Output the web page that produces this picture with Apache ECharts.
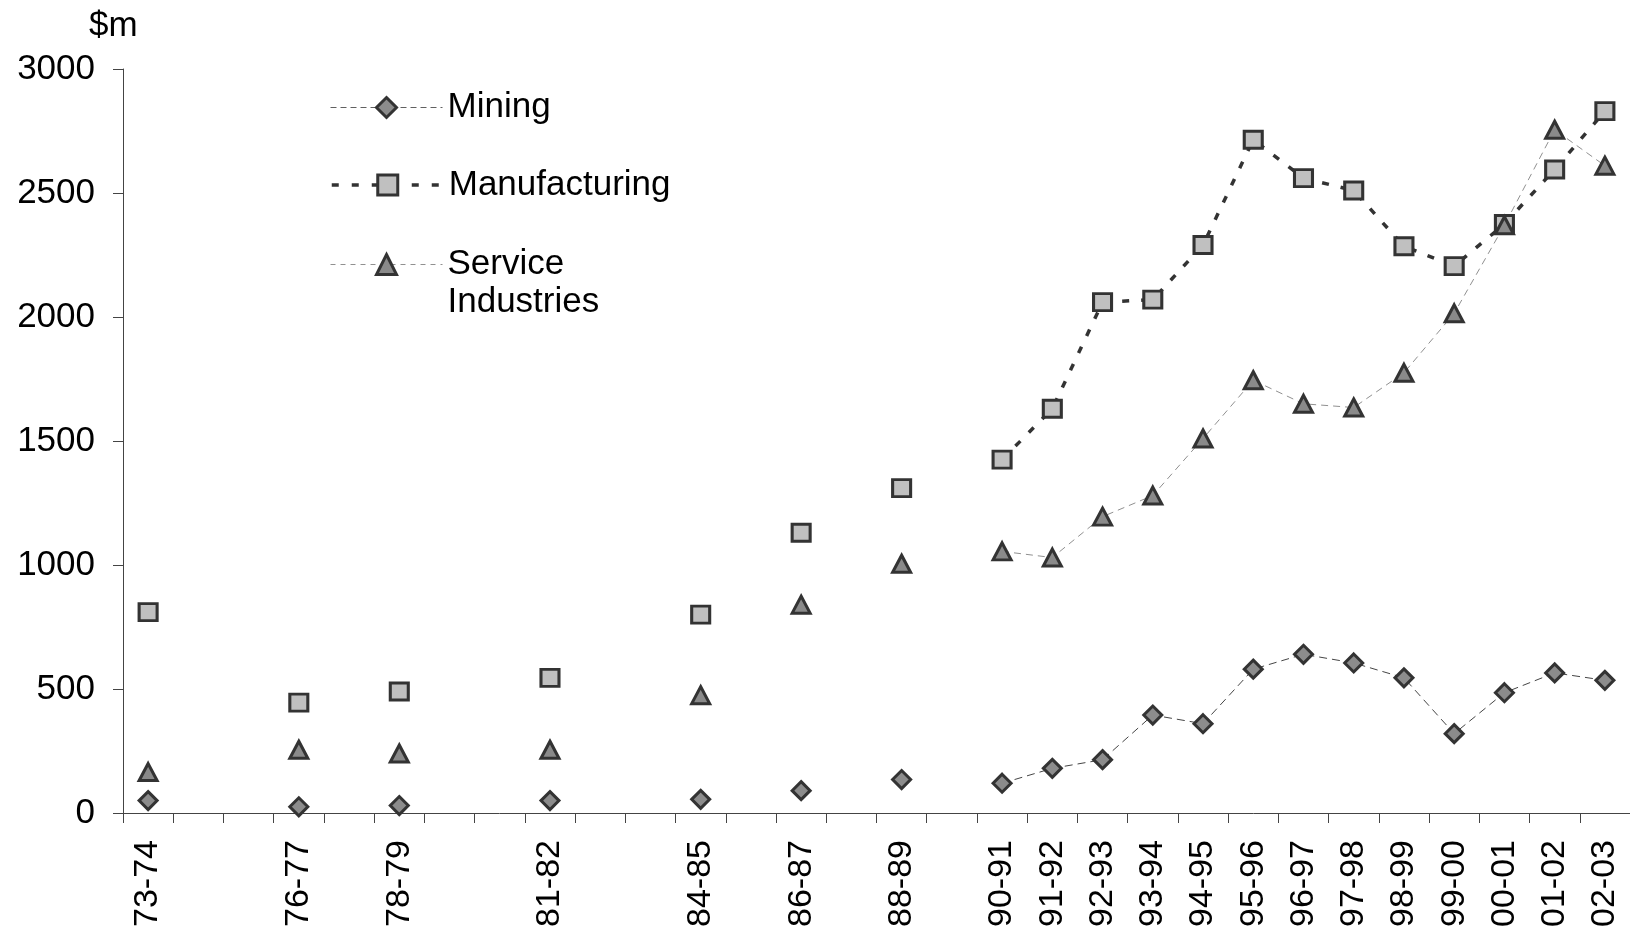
<!DOCTYPE html>
<html>
<head>
<meta charset="utf-8">
<script src="https://cdn.jsdelivr.net/npm/echarts@6/dist/echarts.min.js"></script>
<style>
  html, body { margin: 0; padding: 0; background: #ffffff; }
  #chart { width: 1630px; height: 930px; }
</style>
</head>
<body>
<div id="chart"></div>
<script>
// Financial years 1973-74 to 2002-03; years without a survey are null
const years = ['73-74','74-75','75-76','76-77','77-78','78-79','79-80','80-81','81-82','82-83',
               '83-84','84-85','85-86','86-87','87-88','88-89','89-90','90-91','91-92','92-93',
               '93-94','94-95','95-96','96-97','97-98','98-99','99-00','00-01','01-02','02-03'];

const mining = [50, null, null, 25, null, 30, null, null, 50, null,
                null, 55, null, 90, null, 135, null, 120, 180, 215,
                395, 360, 580, 640, 605, 545, 320, 485, 565, 535];

const manufacturing = [810, null, null, 445, null, 490, null, null, 545, null,
                       null, 800, null, 1130, null, 1310, null, 1425, 1630, 2060,
                       2070, 2290, 2715, 2560, 2510, 2285, 2205, 2375, 2595, 2830];

const services = [165, null, null, 255, null, 240, null, null, 255, null,
                  null, 475, null, 840, null, 1005, null, 1055, 1030, 1195,
                  1280, 1510, 1745, 1650, 1635, 1775, 2015, 2370, 2755, 2610];

const yTicks = { min: 0, max: 3000, step: 500 };
const unitLabel = '$m';

const FONT = '"Liberation Sans", Arial, sans-serif';
const FS = 35;      // horizontal text
const FS_X = 34;    // rotated year labels

const hasValue = years.map((_, i) =>
  mining[i] !== null || manufacturing[i] !== null || services[i] !== null);

const chart = echarts.init(document.getElementById('chart'), null, { renderer: 'canvas' });

// one legend block per series so each row can sit at its own height
function legendBlock(name, top, label, line) {
  return {
    data: [name],
    left: 330,
    top: top,
    padding: 0,
    itemWidth: 112,
    itemHeight: 25,
    selectedMode: false,
    formatter: () => label,
    lineStyle: line,
    itemStyle: { borderWidth: 3 },
    textStyle: { fontFamily: FONT, fontSize: FS, color: '#000', lineHeight: 38 }
  };
}

chart.setOption({
  animation: false,
  backgroundColor: '#ffffff',
  grid: { left: 123, top: 69, width: 1514, height: 744 },
  graphic: [{
    type: 'text', left: 89, top: 9,
    style: { text: unitLabel, font: FS + 'px ' + FONT, fill: '#000' }
  }],
  legend: [
    legendBlock('Mining', 88.5, 'Mining',
      { width: 1, color: '#606060', type: [6, 4] }),
    legendBlock('Manufacturing', 166, 'Manufacturing',
      { width: 3.5, color: '#333333', type: [7, 13] }),
    // blank first line keeps "Service" level with the symbol
    legendBlock('Service Industries', 207.5, '\u00a0\nService\nIndustries',
      { width: 1, color: '#909090', type: [5, 5] })
  ],
  xAxis: {
    type: 'category',
    data: years,
    boundaryGap: true,
    axisLine: { lineStyle: { color: '#444', width: 1 } },
    axisTick: { show: true, interval: 0, length: 10, lineStyle: { color: '#444' } },
    axisLabel: {
      interval: (i) => hasValue[i],
      rotate: 90,
      margin: 27,
      fontFamily: FONT, fontSize: FS_X, color: '#000'
    },
    splitLine: { show: false }
  },
  yAxis: {
    type: 'value',
    min: yTicks.min, max: yTicks.max, interval: yTicks.step,
    axisLine: { show: true, lineStyle: { color: '#444', width: 1 } },
    axisTick: { show: true, length: 10, lineStyle: { color: '#444' } },
    axisLabel: {
      margin: 28, fontFamily: FONT, fontSize: FS, color: '#000',
      formatter: (v) => String(v)
    },
    splitLine: { show: false }
  },
  series: [
    {
      name: 'Mining', type: 'line', data: mining,
      symbol: 'diamond', symbolSize: [18, 18],
      itemStyle: { color: '#8c8c8c', borderColor: '#333333', borderWidth: 3 },
      lineStyle: { color: '#454545', width: 1, type: [8, 5] },
      connectNulls: false
    },
    {
      name: 'Manufacturing', type: 'line', data: manufacturing,
      symbol: 'rect', symbolSize: [18, 17],
      itemStyle: { color: '#c0c0c0', borderColor: '#333333', borderWidth: 3 },
      lineStyle: { color: '#333333', width: 3.5, type: [7, 12] },
      connectNulls: false
    },
    {
      name: 'Service Industries', type: 'line', data: services,
      symbol: 'triangle', symbolSize: [18, 17],
      itemStyle: { color: '#8a8a8a', borderColor: '#333333', borderWidth: 3 },
      lineStyle: { color: '#909090', width: 1, type: [7, 5] },
      connectNulls: false
    }
  ]
});
</script>
</body>
</html>
